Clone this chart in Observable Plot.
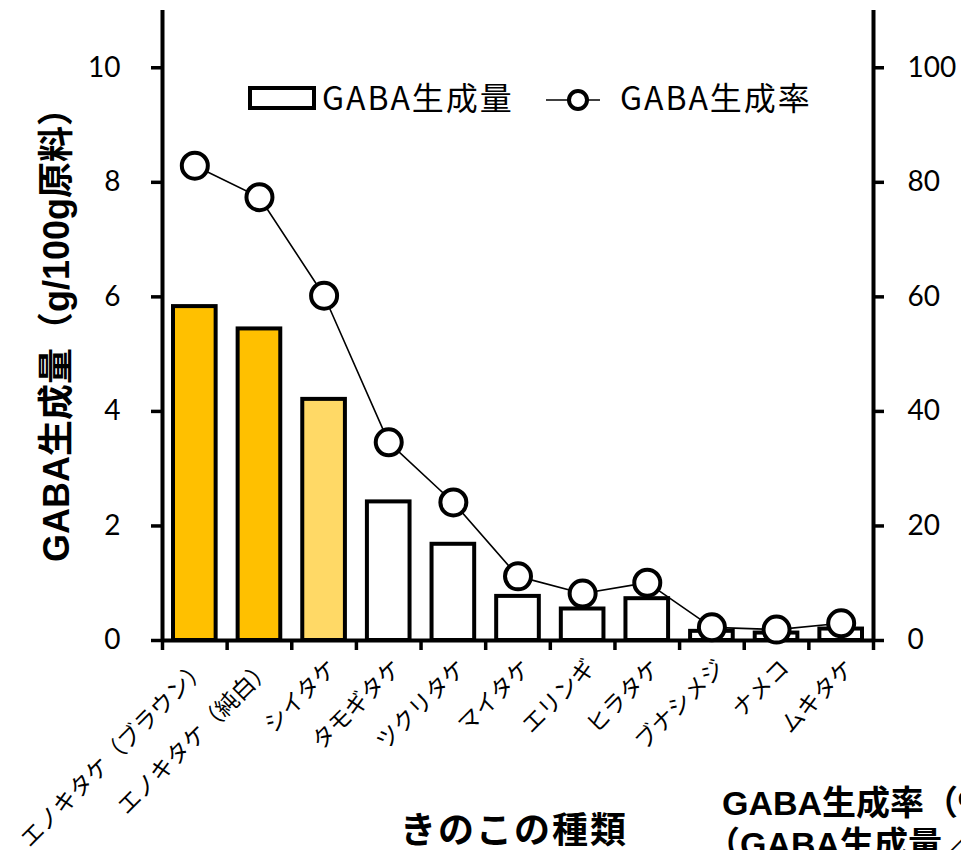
<!DOCTYPE html>
<html>
<head>
<meta charset="utf-8">
<script src="https://cdn.jsdelivr.net/npm/d3@7"></script>
<script src="https://cdn.jsdelivr.net/npm/@observablehq/plot@0.6"></script>
<style>
  body { margin: 0; background: #fff; }
  #chart svg { display: block; }
</style>
</head>
<body>
<div id="chart"></div>
<script>
// Mushroom varieties and their GABA yield / conversion rate
const categories = ["エノキタケ（ブラウン）", "エノキタケ（純白）", "シイタケ", "タモギタケ", "ツクリタケ",
                    "マイタケ", "エリンギ", "ヒラタケ", "ブナシメジ", "ナメコ", "ムキタケ"];
const amounts = [5.83, 5.44, 4.21, 2.42, 1.68, 0.77, 0.55, 0.73, 0.16, 0.13, 0.20];   // g / 100g raw material
const rates = [82.9, 77.4, 60.2, 34.6, 24.1, 11.2, 8.2, 10.1, 2.3, 1.9, 3.0];          // %
const barFills = ["#FFC000", "#FFC000", "#FFD966", "#FFFFFF", "#FFFFFF", "#FFFFFF",
                  "#FFFFFF", "#FFFFFF", "#FFFFFF", "#FFFFFF", "#FFFFFF"];
const leftTicks = [0, 2, 4, 6, 8, 10];
const rightTicks = [0, 20, 40, 60, 80, 100];
const rateScale = 10; // right axis = left axis × 10

const rows = categories.map((name, i) => ({
  name, i, amount: amounts[i], rate: rates[i], fill: barFills[i]
}));

const n = categories.length;
const latin = "Lato, 'Noto Sans CJK JP', sans-serif";
const jp = "'Noto Sans CJK JP', sans-serif";
const boldFont = "'Liberation Sans', 'Noto Sans CJK JP', sans-serif";

const chart = Plot.plot({
  width: 961,
  height: 850,
  marginLeft: 162,
  marginRight: 88,
  marginTop: 10,
  marginBottom: 210,
  x: {type: "linear", domain: [0, n], axis: null},
  y: {domain: [0, 11], axis: null},
  style: {fontFamily: latin, color: "#000", background: "#fff", overflow: "hidden"},
  marks: [
    // bars: GABA amount
    Plot.rectY(rows, {
      x1: d => d.i, x2: d => d.i + 1, y: "amount",
      fill: "fill", stroke: "#000", strokeWidth: 4,
      insetLeft: 11, insetRight: 11
    }),
    // axis lines
    Plot.ruleY([0], {stroke: "#000", strokeWidth: 4}),
    Plot.ruleX([0, n], {y1: 0, y2: 11, stroke: "#000", strokeWidth: 4}),
    // category boundary ticks
    Plot.axisX(d3.range(0, n + 1), {
      anchor: "bottom", tickSize: 10, strokeWidth: 3.5, tickFormat: () => "", label: null
    }),
    // left axis (amount)
    Plot.axisY(leftTicks, {
      anchor: "left", tickSize: 11, tickPadding: 31, strokeWidth: 3.5,
      fontSize: 28, label: null, tickFormat: d => String(d)
    }),
    // right axis (rate)
    Plot.axisY(leftTicks, {
      anchor: "right", tickSize: 10, tickPadding: 24, strokeWidth: 3.5,
      fontSize: 28, label: null, tickFormat: (d, i) => String(rightTicks[i])
    }),
    // category labels
    Plot.text(rows, {
      x: d => d.i + 0.5, y: 0, text: "name",
      rotate: -45, textAnchor: "end", lineAnchor: "bottom",
      dx: 14, dy: 29, fontSize: 23, fontFamily: jp
    }),
    // line: GABA conversion rate
    Plot.line(rows, {x: d => d.i + 0.5, y: d => d.rate / rateScale, stroke: "#000", strokeWidth: 1.6}),
    Plot.dot(rows, {
      x: d => d.i + 0.5, y: d => d.rate / rateScale, r: 13,
      fill: "#fff", stroke: "#000", strokeWidth: 4
    })
  ]
});

const svg = d3.select(chart);

// legend
const lg = svg.append("g").attr("font-family", jp).attr("font-size", 32).attr("text-anchor", "start");
lg.append("rect").attr("x", 250).attr("y", 88).attr("width", 64).attr("height", 20)
  .attr("fill", "#fff").attr("stroke", "#000").attr("stroke-width", 4);
lg.append("text").attr("x", 322).attr("y", 110).attr("letter-spacing", 2).text("GABA生成量");
lg.append("line").attr("x1", 546).attr("x2", 600).attr("y1", 100).attr("y2", 100)
  .attr("stroke", "#000").attr("stroke-width", 1.6);
lg.append("circle").attr("cx", 578).attr("cy", 100).attr("r", 9)
  .attr("fill", "#fff").attr("stroke", "#000").attr("stroke-width", 4);
lg.append("text").attr("x", 620).attr("y", 110).attr("letter-spacing", 2).text("GABA生成率");

// left axis title
svg.append("text")
  .attr("transform", "translate(69,326) rotate(-90)")
  .attr("text-anchor", "middle")
  .attr("font-family", boldFont)
  .attr("font-weight", "bold").attr("font-size", 36)
  .text("GABA生成量（g/100g原料）");

// x axis title
svg.append("text")
  .attr("x", 514).attr("y", 843).attr("text-anchor", "middle")
  .attr("font-family", jp).attr("font-weight", "bold").attr("font-size", 36)
  .attr("letter-spacing", 2)
  .text("きのこの種類");

// right axis title (runs past the edge)
const rt = svg.append("text")
  .attr("text-anchor", "start")
  .attr("font-family", boldFont)
  .attr("font-weight", "bold").attr("font-size", 34);
rt.append("tspan").attr("x", 722).attr("y", 815).text("GABA生成率（%）");
rt.append("tspan").attr("x", 706).attr("y", 856).text("（GABA生成量／原料GABA量×100）");

document.getElementById("chart").append(chart);
</script>
</body>
</html>
